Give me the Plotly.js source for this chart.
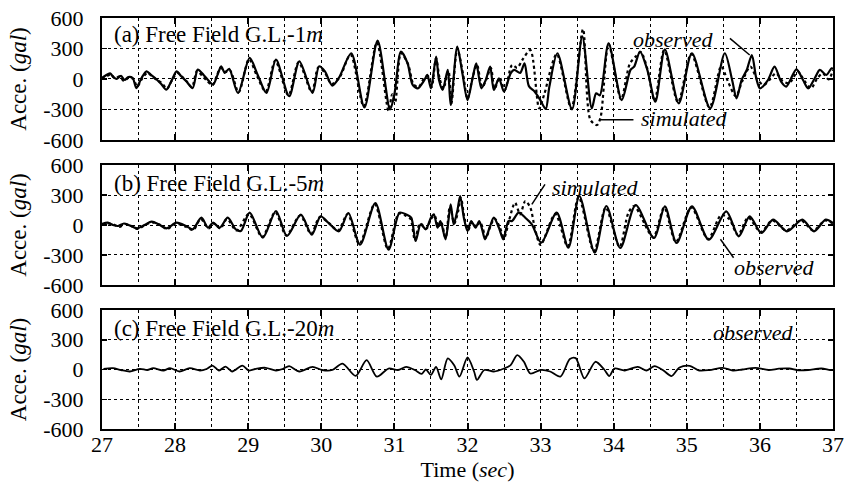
<!DOCTYPE html>
<html>
<head>
<meta charset="utf-8">
<script src="https://cdn.plot.ly/plotly-3.0.1.min.js"></script>
<style>
  html, body { margin: 0; padding: 0; background: #fff; }
  #chart { width: 846px; height: 489px; }
</style>
</head>
<body>
<div id="chart"></div>
<script>
// ---- tick labels ----
const xTicks = [27, 28, 29, 30, 31, 32, 33, 34, 35, 36, 37];
const yTicks = [-600, -300, 0, 300, 600];

// ---- panel (a) Free Field G.L.-1m ----
const tA_obs = [27.00,27.05,27.11,27.16,27.20,27.26,27.31,27.36,27.42,27.47,
  27.54,27.61,27.67,27.74,27.81,27.88,27.95,28.02,28.08,28.15,
  28.24,28.31,28.39,28.45,28.52,28.58,28.63,28.68,28.74,28.86,
  29.02,29.13,29.25,29.38,29.56,29.70,29.88,29.97,30.05,30.15,
  30.24,30.41,30.59,30.77,30.94,31.00,31.09,31.18,31.25,31.32,
  31.41,31.45,31.50,31.57,31.61,31.66,31.73,31.77,31.86,31.93,
  32.00,32.07,32.12,32.19,32.25,32.31,32.36,32.43,32.50,32.59,
  32.64,32.72,32.78,32.84,32.92,32.99,33.07,33.12,33.23,33.43,
  33.57,33.70,33.76,33.81,33.93,34.11,34.23,34.28,34.36,34.46,
  34.57,34.70,34.89,35.07,35.32,35.52,35.62,35.68,35.75,35.82,
  35.89,35.95,36.00,36.11,36.20,36.29,36.36,36.50,36.59,36.66,
  36.75,36.82,36.91,36.98,37.00];
const aA_obs = [10,35,55,15,0,30,-10,20,10,-89,
  10,75,40,0,-50,-105,-20,75,30,-20,
  -89,92,40,-10,-55,40,125,60,100,-138,
  207,40,-138,190,-170,174,-138,125,75,-65,
  10,253,-279,377,-300,-150,269,155,-59,-92,
  -10,40,-92,220,-10,-108,89,-256,318,56,
  -207,10,154,-92,-10,121,-108,7,-125,56,
  89,60,154,-70,-125,-200,-295,-75,253,-298,
  420,-289,-141,-160,350,-207,89,121,269,89,
  -223,292,-239,253,-289,253,-10,-190,-10,89,
  236,7,-92,-10,121,-26,-75,95,-10,-92,
  7,89,40,105,100];

const tA_sim = [27.00,27.06,27.12,27.18,27.24,27.30,27.37,27.43,27.48,27.55,
  27.62,27.68,27.75,27.82,27.89,27.96,28.03,28.10,28.16,28.23,
  28.30,28.37,28.44,28.51,28.57,28.62,28.69,28.75,28.87,29.01,
  29.12,29.24,29.37,29.55,29.69,29.87,29.96,30.05,30.14,30.25,
  30.40,30.58,30.76,30.92,30.97,31.01,31.09,31.19,31.26,31.33,
  31.40,31.46,31.51,31.57,31.62,31.67,31.74,31.78,31.86,31.94,
  32.00,32.07,32.13,32.20,32.26,32.32,32.37,32.44,32.51,32.61,
  32.68,32.75,32.86,32.98,33.05,33.22,33.42,33.58,33.68,33.77,
  33.82,33.93,34.10,34.22,34.30,34.37,34.46,34.56,34.69,34.88,
  35.06,35.31,35.47,35.56,35.67,35.76,35.87,35.96,36.05,36.13,
  36.22,36.31,36.40,36.52,36.61,36.70,36.78,36.86,36.94,37.00];
const aA_sim = [0,25,45,5,25,-20,15,0,-75,5,
  60,30,-10,-40,-95,-10,60,20,-25,-80,
  80,30,-20,-60,30,110,70,85,-130,195,
  30,-125,180,-160,165,-130,115,60,-50,15,
  240,-270,360,-312,-150,-230,255,140,-50,-80,
  0,30,-80,205,0,-95,80,-240,300,45,
  -195,15,140,-80,0,110,-95,15,-110,138,
  110,187,285,-289,-150,245,-290,490,-400,-453,
  -380,345,-200,150,220,265,100,-215,285,-230,
  245,-280,125,-20,-170,-20,121,0,-59,-10,
  56,-20,-43,72,-20,-92,0,56,-5,90];

// ---- panel (b) Free Field G.L.-5m ----
const tB_obs = [27.00,27.08,27.15,27.22,27.30,27.38,27.48,27.58,27.68,27.78,
  27.88,28.02,28.15,28.24,28.36,28.45,28.52,28.61,28.72,28.83,
  28.90,29.02,29.20,29.38,29.53,29.72,29.87,29.99,30.10,30.24,
  30.37,30.53,30.74,30.92,31.07,31.16,31.23,31.29,31.36,31.43,
  31.50,31.54,31.59,31.63,31.70,31.77,31.81,31.86,31.90,31.95,
  32.00,32.05,32.11,32.16,32.20,32.24,32.31,32.36,32.43,32.49,
  32.56,32.61,32.70,32.79,32.88,33.01,33.22,33.38,33.53,33.74,
  33.90,34.09,34.30,34.55,34.70,34.86,35.07,35.30,35.54,35.71,
  35.86,36.02,36.18,36.37,36.58,36.74,36.90,37.00];
const aB_obs = [10,23,0,-10,15,-5,-33,0,33,5,
  -33,23,-10,-43,73,-27,23,-27,73,-43,
  -60,123,-127,140,-110,103,-97,87,20,-63,
  120,-197,220,-247,123,106,73,-160,7,-43,
  73,106,-27,40,-143,206,7,140,290,73,
  -60,40,-27,40,-43,-143,-10,73,-27,-143,
  40,40,123,73,7,-177,123,-226,290,-276,
  190,-230,200,-130,187,-180,187,-147,137,-113,
  87,-80,53,-63,53,-63,53,20];

const tB_sim = [27.00,27.07,27.16,27.24,27.32,27.40,27.49,27.60,27.69,27.80,
  27.89,28.01,28.14,28.25,28.35,28.46,28.53,28.62,28.71,28.84,
  29.01,29.19,29.37,29.52,29.71,29.86,29.98,30.11,30.23,30.36,
  30.52,30.73,30.91,31.06,31.15,31.22,31.28,31.35,31.44,31.50,
  31.55,31.60,31.64,31.70,31.76,31.82,31.87,31.91,31.96,32.01,
  32.06,32.12,32.17,32.21,32.25,32.32,32.37,32.44,32.50,32.57,
  32.65,32.72,32.79,32.86,32.92,33.00,33.20,33.37,33.52,33.73,
  33.89,34.08,34.20,34.28,34.54,34.69,34.85,35.06,35.29,35.47,
  35.58,35.70,35.84,36.01,36.17,36.36,36.56,36.73,36.89,37.00];
const aB_sim = [0,15,5,-20,10,-10,-40,5,25,0,
  -40,15,-15,-50,60,-35,15,-35,60,-55,
  110,-120,130,-105,95,-90,80,15,-55,110,
  -190,210,-240,115,95,60,-150,15,-35,60,
  95,-20,30,-130,190,15,130,270,65,-50,
  30,-20,30,-35,-130,0,65,-20,-130,50,
  223,106,240,173,-27,-200,110,-215,280,-265,
  175,-220,120,190,-120,175,-170,175,-140,100,
  60,-100,75,-70,45,-55,45,-55,45,15];

// ---- panel (c) Free Field G.L.-20m ----
const tC_obs = [27.02,27.15,27.26,27.38,27.52,27.62,27.70,27.84,27.93,28.06,
  28.20,28.34,28.43,28.51,28.60,28.69,28.78,28.92,29.01,29.12,
  29.24,29.38,29.47,29.56,29.70,29.88,30.01,30.15,30.29,30.47,
  30.62,30.76,30.92,31.05,31.16,31.28,31.37,31.43,31.50,31.57,
  31.64,31.73,31.82,31.89,32.00,32.09,32.13,32.23,32.36,32.50,
  32.59,32.68,32.77,32.86,33.00,33.13,33.27,33.40,33.48,33.60,
  33.75,33.87,33.94,34.01,34.15,34.33,34.45,34.56,34.68,34.79,
  34.90,35.04,35.17,35.31,35.49,35.63,35.76,35.94,36.12,36.26,
  36.40,36.53,36.66,36.84,36.96,37.00];
const aC_obs = [7,13,-5,-20,7,-5,13,-10,13,-20,
  13,-10,5,40,-10,30,-20,40,-10,10,
  17,-10,5,34,-20,27,-5,-5,60,-65,
  95,-72,10,-5,27,-5,-45,0,-55,27,
  -100,112,40,-72,122,-20,-105,-5,-20,10,
  45,145,80,-40,-5,-20,-72,105,115,-90,
  78,0,-66,10,-10,27,-10,34,-10,-66,
  20,37,-10,-5,17,-10,0,17,-5,8,
  10,-8,-5,10,-5,-5];

const FONT = 'Liberation Serif, Times New Roman, serif';

const obsLine = {color: '#000', width: 2.2, shape: 'spline', smoothing: 0.8};
const simLine = {color: '#000', width: 2.2, dash: 'dot', shape: 'spline', smoothing: 0.8};

const traces = [
  {x: tA_obs, y: aA_obs, xaxis: 'x', yaxis: 'y', type: 'scatter', mode: 'lines', line: obsLine, name: 'observed'},
  {x: tA_sim, y: aA_sim, xaxis: 'x', yaxis: 'y', type: 'scatter', mode: 'lines', line: simLine, name: 'simulated'},
  {x: tB_obs, y: aB_obs, xaxis: 'x2', yaxis: 'y2', type: 'scatter', mode: 'lines', line: obsLine, name: 'observed'},
  {x: tB_sim, y: aB_sim, xaxis: 'x2', yaxis: 'y2', type: 'scatter', mode: 'lines', line: simLine, name: 'simulated'},
  {x: tC_obs, y: aC_obs, xaxis: 'x3', yaxis: 'y3', type: 'scatter', mode: 'lines',
   line: {color: '#000', width: 1.8, shape: 'spline', smoothing: 0.8}, name: 'observed'}
];

function xAxis(anchor, showLabels) {
  return {
    anchor: anchor,
    range: [xTicks[0], xTicks[xTicks.length - 1]],
    tickvals: xTicks,
    ticktext: xTicks.map(String),
    showticklabels: showLabels,
    ticklabeloverflow: 'allow',
    ticks: 'inside', ticklen: 6, tickwidth: 2, tickcolor: '#000',
    showline: true, linecolor: '#000', linewidth: 2, mirror: 'ticks',
    showgrid: true, gridcolor: '#000', gridwidth: 1, griddash: 'dot',
    minor: {dtick: 0.5, tick0: 27, showgrid: true, gridcolor: '#000', gridwidth: 1, griddash: 'dot', ticks: ''},
    zeroline: false,
    tickfont: {family: FONT, size: 22, color: '#000'},
    ticklabelstandoff: -5,
    fixedrange: true
  };
}
function yAxis(anchor, domain) {
  return {
    anchor: anchor,
    domain: domain,
    range: [yTicks[0], yTicks[yTicks.length - 1]],
    tickvals: yTicks,
    ticktext: yTicks.map(String),
    ticks: 'inside', ticklen: 5, tickwidth: 1.5, tickcolor: '#000',
    showline: true, linecolor: '#000', linewidth: 2, mirror: 'ticks',
    showgrid: true, gridcolor: '#000', gridwidth: 1, griddash: 'dot',
    zeroline: false,
    tickfont: {family: FONT, size: 22, color: '#000'},
    ticklabelstandoff: 12,
    title: {text: 'Acce. (<i>gal</i>)', font: {family: FONT, size: 23, color: '#000'}, standoff: 10},
    fixedrange: true
  };
}

const x3 = xAxis('y3', true);
x3.title = {text: 'Time (<i>sec</i>)', font: {family: FONT, size: 22, color: '#000'}, standoff: 2};

const annFont = {family: FONT, size: 22, color: '#000'};
const labFont = {family: FONT, size: 23, color: '#000'};

const layout = {
  width: 846, height: 489,
  margin: {l: 102, r: 13, t: 18, b: 60},
  paper_bgcolor: '#fff', plot_bgcolor: '#fff',
  showlegend: false,
  xaxis: xAxis('y', false),
  xaxis2: xAxis('y2', false),
  xaxis3: x3,
  yaxis: yAxis('x', [0.7032, 1]),
  yaxis2: yAxis('x2', [0.3504, 0.6423]),
  yaxis3: yAxis('x3', [0, 0.2895]),
  annotations: [
    {xref: 'x', yref: 'y', x: 27.14, y: 437, xanchor: 'left', yanchor: 'middle', showarrow: false,
     text: '(a) Free Field G.L.-1<i>m</i>', font: labFont},
    {xref: 'x2', yref: 'y2', x: 27.14, y: 415, xanchor: 'left', yanchor: 'middle', showarrow: false,
     text: '(b) Free Field G.L.-5<i>m</i>', font: labFont},
    {xref: 'x3', yref: 'y3', x: 27.14, y: 414, xanchor: 'left', yanchor: 'middle', showarrow: false,
     text: '(c) Free Field G.L.-20<i>m</i>', font: labFont},
    {xref: 'x', yref: 'y', x: 34.81, y: 390, xanchor: 'center', yanchor: 'middle', showarrow: false,
     text: '<i>observed</i>', font: annFont},
    {xref: 'x', yref: 'y', x: 34.97, y: -390, xanchor: 'center', yanchor: 'middle', showarrow: false,
     text: '<i>simulated</i>', font: annFont},
    {xref: 'x2', yref: 'y2', x: 33.75, y: 380, xanchor: 'center', yanchor: 'middle', showarrow: false,
     text: '<i>simulated</i>', font: annFont},
    {xref: 'x2', yref: 'y2', x: 36.19, y: -430, xanchor: 'center', yanchor: 'middle', showarrow: false,
     text: '<i>observed</i>', font: annFont},
    {xref: 'x3', yref: 'y3', x: 35.91, y: 374, xanchor: 'center', yanchor: 'middle', showarrow: false,
     text: '<i>observed</i>', font: annFont}
  ],
  shapes: [
    {type: 'line', xref: 'x', yref: 'y', x0: 35.59, y0: 400, x1: 35.86, y1: 236, line: {color: '#000', width: 1.5}},
    {type: 'line', xref: 'x', yref: 'y', x0: 33.81, y0: -400, x1: 34.27, y1: -400, line: {color: '#000', width: 1.5}},
    {type: 'line', xref: 'x2', yref: 'y2', x0: 33.06, y0: 407, x1: 32.88, y1: 207, line: {color: '#000', width: 1.5}},
    {type: 'line', xref: 'x2', yref: 'y2', x0: 35.46, y0: -143, x1: 35.64, y1: -327, line: {color: '#000', width: 1.5}}
  ]
};

Plotly.newPlot('chart', traces, layout, {staticPlot: true, displayModeBar: false});
</script>
</body>
</html>
